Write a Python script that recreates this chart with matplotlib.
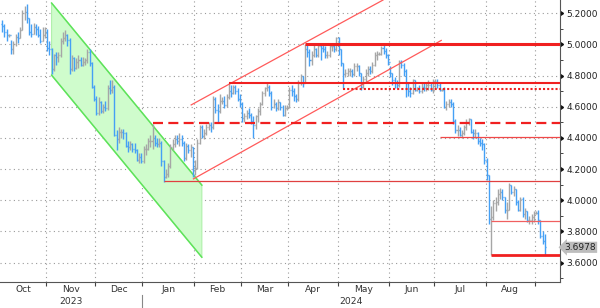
import numpy as np
import pandas as pd
import matplotlib
matplotlib.use("Agg")
import matplotlib.pyplot as plt
from matplotlib.collections import LineCollection
from matplotlib.transforms import blended_transform_factory

# ---------------- data (daily bars, weekdays from 2023-10-04) ----------------
oct_c = [5.12,5.08,5.06,5.06,4.97,5.00,5.05,5.04,5.09,5.20,5.21,5.17,5.08,5.07,5.11,5.10,5.06,5.02,5.06,5.08]
oct_h = [5.16,5.13,5.10,5.07,5.03,5.02,5.07,5.08,5.11,5.22,5.25,5.26,5.17,5.13,5.14,5.13,5.12,5.10,5.11,5.11]
oct_l = [5.08,5.05,5.02,5.05,4.94,4.94,4.99,5.01,5.04,5.09,5.16,5.14,5.06,5.05,5.07,5.06,5.05,5.01,5.02,5.04]

nov_c = [4.98,4.97,4.84,4.93,4.92,4.93,5.02,5.04,5.06,5.03,4.84,4.91,4.85,4.89,4.90,4.87,4.89,4.90,4.95,4.88,4.73,4.65]
nov_h = [5.10,5.02,4.98,4.94,4.95,4.95,5.04,5.08,5.09,5.07,5.04,4.93,4.92,4.91,4.93,4.92,4.92,4.91,4.97,4.97,4.89,4.74]
nov_l = [4.96,4.93,4.81,4.83,4.87,4.89,4.92,5.00,5.02,4.99,4.81,4.83,4.83,4.84,4.85,4.86,4.86,4.87,4.88,4.86,4.72,4.64]

dec_c = [4.56,4.63,4.57,4.60,4.59,4.72,4.71,4.73,4.42,4.39,4.44,4.44,4.43,4.35,4.34,4.36,4.33,4.32,4.26,4.28,4.25]
dec_h = [4.67,4.66,4.64,4.62,4.64,4.74,4.77,4.77,4.74,4.45,4.47,4.46,4.46,4.44,4.38,4.38,4.37,4.37,4.33,4.30,4.30]
dec_l = [4.55,4.55,4.56,4.56,4.57,4.58,4.68,4.69,4.41,4.32,4.37,4.40,4.39,4.34,4.31,4.32,4.31,4.30,4.25,4.24,4.24]

jan_c = [4.33,4.33,4.38,4.38,4.40,4.37,4.36,4.37,4.25,4.15,4.17,4.22,4.34,4.36,4.39,4.38,4.39,4.37,4.27,4.35,4.32,4.34,4.21]
jan_h = [4.35,4.36,4.40,4.42,4.49,4.42,4.40,4.40,4.38,4.26,4.20,4.24,4.36,4.39,4.42,4.42,4.43,4.42,4.38,4.37,4.36,4.36,4.34]
jan_l = [4.24,4.29,4.32,4.34,4.33,4.35,4.34,4.34,4.22,4.12,4.14,4.15,4.21,4.32,4.34,4.36,4.35,4.35,4.25,4.26,4.30,4.28,4.15]

feb_c = [4.21,4.37,4.47,4.41,4.43,4.47,4.48,4.47,4.65,4.58,4.57,4.64,4.64,4.61,4.66,4.70,4.69,4.73,4.70,4.65,4.62]
feb_h = [4.26,4.39,4.48,4.48,4.46,4.49,4.50,4.50,4.67,4.66,4.62,4.68,4.66,4.67,4.68,4.75,4.74,4.74,4.74,4.72,4.68]
feb_l = [4.16,4.20,4.36,4.40,4.39,4.42,4.45,4.44,4.46,4.56,4.50,4.56,4.62,4.59,4.60,4.65,4.66,4.68,4.68,4.64,4.60]

mar_c = [4.53,4.54,4.56,4.55,4.51,4.48,4.54,4.57,4.62,4.69,4.72,4.73,4.69,4.60,4.62,4.59,4.63,4.60,4.55,4.59,4.60]
mar_h = [4.63,4.56,4.58,4.59,4.56,4.54,4.55,4.59,4.63,4.70,4.73,4.75,4.74,4.70,4.65,4.63,4.65,4.63,4.61,4.61,4.61]
mar_l = [4.50,4.50,4.52,4.53,4.49,4.40,4.46,4.50,4.55,4.61,4.67,4.70,4.67,4.58,4.59,4.57,4.58,4.58,4.54,4.54,4.58]

apr_c = [4.71,4.70,4.67,4.65,4.75,4.80,4.75,4.97,4.95,4.90,4.93,4.97,4.93,4.99,4.98,4.97,4.93,4.93,4.99,4.99,4.97,5.04]
apr_h = [4.73,4.74,4.72,4.68,4.77,4.81,4.80,5.00,5.00,4.97,4.96,5.00,4.98,5.00,5.00,5.00,4.99,4.96,5.00,5.01,5.00,5.05]
apr_l = [4.59,4.67,4.64,4.63,4.64,4.74,4.73,4.75,4.92,4.86,4.87,4.92,4.92,4.92,4.90,4.95,4.91,4.91,4.92,4.96,4.95,4.96]

may_c = [4.97,4.88,4.81,4.82,4.83,4.83,4.81,4.86,4.86,4.82,4.73,4.78,4.82,4.84,4.83,4.87,4.93,4.94,4.94,4.98,4.96,4.93,4.89]
may_h = [5.05,4.97,4.88,4.84,4.85,4.85,4.84,4.88,4.88,4.87,4.82,4.80,4.84,4.86,4.86,4.89,4.95,4.96,4.95,4.99,5.00,4.98,4.94]
may_l = [4.93,4.86,4.72,4.79,4.80,4.80,4.79,4.80,4.83,4.80,4.71,4.72,4.76,4.80,4.81,4.82,4.86,4.90,4.93,4.93,4.94,4.91,4.87]

jun_c = [4.82,4.77,4.75,4.74,4.89,4.87,4.83,4.75,4.70,4.69,4.77,4.71,4.72,4.70,4.73,4.72,4.74,4.74,4.71,4.75]
jun_h = [4.86,4.82,4.79,4.77,4.90,4.90,4.88,4.84,4.76,4.73,4.78,4.77,4.73,4.74,4.75,4.75,4.76,4.77,4.76,4.78]
jun_l = [4.79,4.74,4.72,4.72,4.73,4.85,4.80,4.66,4.67,4.66,4.68,4.70,4.70,4.69,4.69,4.70,4.70,4.71,4.70,4.69]

jul_c = [4.76,4.74,4.71,4.71,4.60,4.62,4.63,4.62,4.51,4.45,4.45,4.42,4.43,4.47,4.50,4.52,4.44,4.43,4.43,4.38,4.37,4.36,4.26]
jul_h = [4.78,4.78,4.75,4.72,4.73,4.64,4.65,4.65,4.63,4.52,4.48,4.47,4.45,4.48,4.52,4.53,4.52,4.46,4.46,4.44,4.40,4.39,4.37]
jul_l = [4.72,4.72,4.70,4.70,4.59,4.58,4.60,4.60,4.49,4.43,4.41,4.41,4.40,4.42,4.45,4.48,4.43,4.39,4.40,4.36,4.35,4.32,4.23]

aug_c = [4.16,3.88,3.89,3.98,3.99,4.04,4.05,4.02,3.94,3.94,4.10,4.05,4.07,3.99,3.94,4.01,3.91,3.93,3.87,3.87,3.89,3.92]
aug_h = [4.27,4.16,3.96,4.00,4.02,4.07,4.08,4.07,4.02,3.99,4.11,4.10,4.09,4.07,4.00,4.02,4.02,3.95,3.93,3.90,3.91,3.93]
aug_l = [4.13,3.85,3.65,3.87,3.93,3.97,4.01,4.00,3.92,3.88,3.94,4.04,4.03,3.97,3.93,3.93,3.89,3.88,3.86,3.85,3.85,3.86]

sep_c = [3.92,3.87,3.77,3.74,3.6978]
sep_h = [3.93,3.94,3.87,3.80,3.78]
sep_l = [3.91,3.85,3.76,3.72,3.65]

first_open = 5.13
start_date = "2023-10-04"

# channels: (date, price) anchor pairs
green_upper = [("2023-11-03", 5.266), ("2024-02-06", 4.097)]
green_lower = [("2023-11-03", 4.803), ("2024-02-06", 3.634)]
red_upper = [("2024-01-30", 4.610), ("2024-05-29", 5.287)]
red_lower = [("2024-01-31", 4.135), ("2024-07-04", 5.028)]

# horizontal levels: (start date, price)
level_500 = ("2024-04-10", 5.000)
level_475 = ("2024-02-22", 4.752)
level_471 = ("2024-05-03", 4.714)
level_449 = ("2024-01-05", 4.495)
level_441 = ("2024-07-03", 4.408)
level_412 = ("2024-01-12", 4.122)
level_386 = ("2024-08-05", 3.865)
level_365 = ("2024-08-05", 3.651)

month_labels = ["Oct", "Nov", "Dec", "Jan", "Feb", "Mar", "Apr", "May", "Jun", "Jul", "Aug"]
year_labels = ["2023", "2024"]
ytick_values = [3.6, 3.8, 4.0, 4.2, 4.4, 4.6, 4.8, 5.0, 5.2]

# ---------------- assemble ----------------
close = np.array(oct_c + nov_c + dec_c + jan_c + feb_c + mar_c + apr_c + may_c + jun_c + jul_c + aug_c + sep_c)
high = np.array(oct_h + nov_h + dec_h + jan_h + feb_h + mar_h + apr_h + may_h + jun_h + jul_h + aug_h + sep_h)
low = np.array(oct_l + nov_l + dec_l + jan_l + feb_l + mar_l + apr_l + may_l + jun_l + jul_l + aug_l + sep_l)
opens = np.r_[first_open, close[:-1]]
n = len(close)
dates = pd.bdate_range(start_date, periods=n)
xi = np.arange(n)


def pos(d):
    return dates.get_loc(pd.Timestamp(d))


fig = plt.figure(figsize=(6.0, 3.08), dpi=100)
ax = fig.add_axes([0, 26 / 308, 560 / 600, 282 / 308])
XMIN, XMAX = -1.0, 248.7
ax.set_xlim(XMIN, XMAX)
ax.set_ylim(3.475, 5.2855)

# green channel
gx = [pos(green_upper[0][0]), pos(green_upper[1][0]), pos(green_lower[1][0]), pos(green_lower[0][0])]
gy = [green_upper[0][1], green_upper[1][1], green_lower[1][1], green_lower[0][1]]
ax.fill(gx, gy, facecolor="#cffccc", edgecolor="#b0f0ab", linewidth=0.8, zorder=1)
ax.plot([gx[0], gx[1]], [gy[0], gy[1]], color="#5ee35a", lw=1.1, zorder=2)
ax.plot([gx[3], gx[2]], [gy[3], gy[2]], color="#5ee35a", lw=1.1, zorder=2)

# bars
up = close >= opens
segs, cols = [], []
for i in range(n):
    c = "#a6a6a6" if up[i] else "#45a0f5"
    segs.append([(xi[i], low[i]), (xi[i], high[i])])
    segs.append([(xi[i] - 0.45, opens[i]), (xi[i], opens[i])])
    segs.append([(xi[i], close[i]), (xi[i] + 0.45, close[i])])
    cols += [c, c, c]
ax.add_collection(LineCollection(segs, colors=cols, linewidths=1.0, zorder=3))

# red channel
for (d0, p0), (d1, p1) in (red_upper, red_lower):
    ax.plot([pos(d0), pos(d1)], [p0, p1], color="#ff5a5a", lw=0.9, zorder=4, solid_capstyle="butt")

# horizontal levels
RED = "#f02020"
def hline(level, lw, ls="-", color=RED):
    d, p = level
    ax.plot([pos(d), XMAX], [p, p], color=color, lw=lw, ls=ls, zorder=4,
            solid_capstyle="butt", dash_capstyle="butt")

hline(level_500, 2.2)
hline(level_475, 1.5)
hline(level_471, 1.5, ls=(0, (1, 1)))
hline(level_449, 1.6, ls=(0, (4.5, 2.4)))
hline(level_441, 0.9, color="#f04848")
hline(level_412, 0.9, color="#e04040")
hline(level_386, 0.9, color="#f06060")
hline(level_365, 2.0)

# x axis: month boundaries
month_starts = [i for i in range(1, n) if dates[i].month != dates[i - 1].month]
bounds = [XMIN] + [m - 0.5 for m in month_starts] + [XMAX]
ax.set_xticks([m - 0.5 for m in month_starts])
ax.set_xticklabels([])
ax.tick_params(axis="x", direction="out", length=3, width=0.8, color="#444444")
trans = blended_transform_factory(ax.transData, ax.transAxes)
for k, lab in enumerate(month_labels):
    cx = (bounds[k] + bounds[k + 1]) / 2
    ax.text(cx, -8 / 282, lab, transform=trans, ha="center", va="center",
            fontsize=6.6, color="#333333")
ystart = month_starts[2]  # January boundary
yb = [XMIN, ystart - 0.5, XMAX]
for k, lab in enumerate(year_labels):
    ax.text((yb[k] + yb[k + 1]) / 2, -20 / 282, lab, transform=trans, ha="center",
            va="center", fontsize=6.6, color="#333333")
ax.plot([ystart - 0.5, ystart - 0.5], [-13 / 282, -27 / 282], transform=trans,
        color="#888888", lw=0.8, clip_on=False)

# y axis on right
ax.yaxis.tick_right()
ax.set_yticks(ytick_values)
ax.set_yticklabels([f"{v:.4f}" for v in ytick_values])
ax.set_yticks(np.arange(3.5, 5.3, 0.1), minor=True)
ax.tick_params(axis="y", which="major", length=0, pad=4.5, labelsize=6.5, labelcolor="#222222")
ax.tick_params(axis="y", which="minor", length=2, width=0.7, color="#444444")
ytrans = blended_transform_factory(ax.transAxes, ax.transData)
ax.plot([1.0] * len(ytick_values), ytick_values, transform=ytrans, ls="none",
        marker=9, markersize=3.2, color="#111111", clip_on=False)

for s in ("left", "top"):
    ax.spines[s].set_visible(False)
for s in ("right", "bottom"):
    ax.spines[s].set_color("#555555")
    ax.spines[s].set_linewidth(0.8)

ax.grid(True, which="major", linestyle=(0, (1, 3)), color="#9a9a9a", linewidth=0.8)
ax.set_axisbelow(True)

# last value tag
last = close[-1]
ax.annotate(f"{last:.4f}", xy=(1.0, last), xycoords=ytrans, xytext=(3.2, 0),
            textcoords="offset points", ha="left", va="center", fontsize=6.5,
            color="#222222", annotation_clip=False,
            bbox=dict(boxstyle="larrow,pad=0.12", fc="#bdbdbd", ec="none"))

fig.savefig("out.png", dpi=100)
